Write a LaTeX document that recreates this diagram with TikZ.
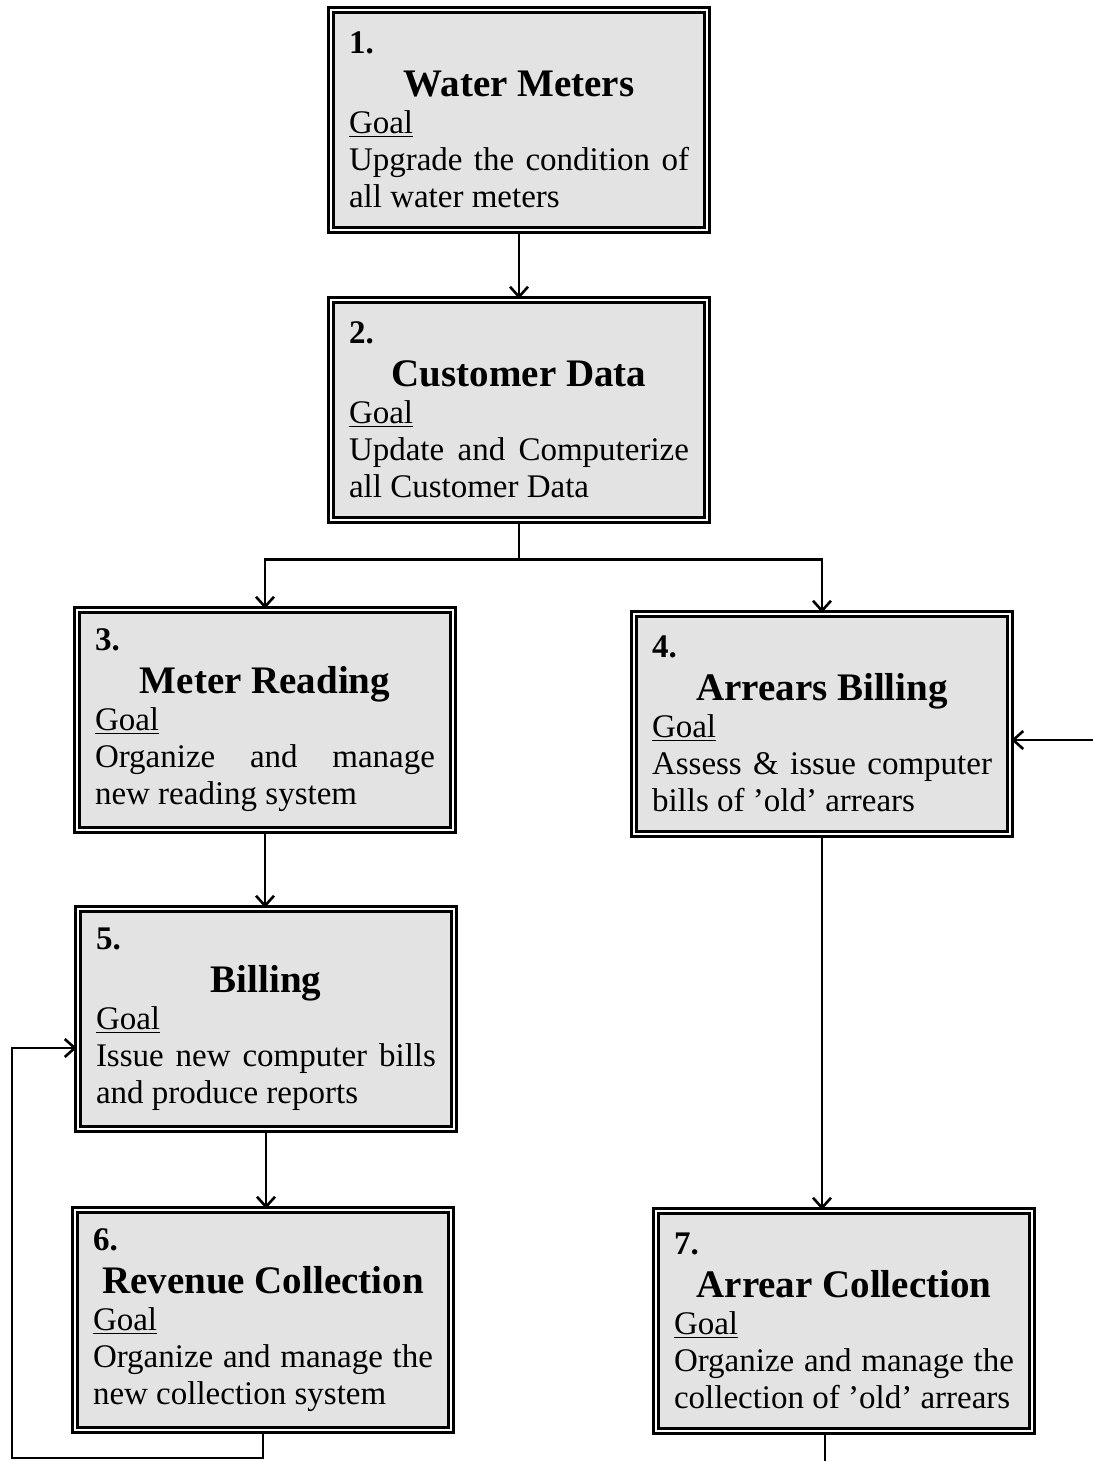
\documentclass[tikz,border=0pt]{standalone}
\usepackage{fontspec}
\setmainfont{Liberation Serif}
\usetikzlibrary{arrows.meta}
\setlength{\parindent}{0pt}

\newcommand{\bodyfont}{\fontsize{16.5}{18.5}\selectfont}
\newcommand{\titlefont}{\fontsize{19.5}{21.5}\selectfont\bfseries}

\tikzset{
  goalbox/.style={draw, line width=1.3pt, double=white, double distance=1.4pt,
    fill=black!11, text width=170pt, minimum height=110pt, inner xsep=9pt,
    align=justify, font=\bodyfont},
  link/.style={line width=1.3pt},
  >={Straight Barb[length=5pt,width=9pt,line width=1.3pt]}
}

\begin{document}
\begin{tikzpicture}[x=0.5pt,y=-0.5pt]
  \useasboundingbox (0,0) rectangle (1093,1461);

  \node[goalbox] (b1) at (519,120) {\textbf{1.}\par{\centering\titlefont Water Meters\par}\underline{Goal}\par
    Upgrade the condition of\linebreak all water meters};
  \node[goalbox] (b2) at (519,410) {\textbf{2.}\par{\centering\titlefont Customer Data\par}\underline{Goal}\par
    Update and Computerize\linebreak all Customer Data};
  \node[goalbox] (b3) at (265,720) {\textbf{3.}\par{\centering\titlefont Meter Reading\par}\underline{Goal}\par
    Organize and manage\linebreak new reading system};
  \node[goalbox] (b4) at (822,724) {\textbf{4.}\par{\centering\titlefont Arrears Billing\par}\underline{Goal}\par
    Assess \& issue computer\linebreak bills of 'old' arrears};
  \node[goalbox] (b5) at (266,1019) {\textbf{5.}\par{\centering\titlefont Billing\par}\underline{Goal}\par
    Issue new computer bills\linebreak and produce reports};
  \node[goalbox] (b6) at (263,1320) {\textbf{6.}\par{\centering\titlefont Revenue Collection\par}\underline{Goal}\par
    Organize and manage the\linebreak new collection system};
  \node[goalbox] (b7) at (844,1321) {\textbf{7.}\par{\centering\titlefont Arrear Collection\par}\underline{Goal}\par
    Organize and manage the\linebreak collection of 'old' arrears};

  % Verbindungen
  \draw[link,->] (b1) -- (b2);
  \draw[link,->] (b2.south) -- ++(0,38) coordinate (split) -| (b3.north);
  \draw[link,->] (split) -| (b4.north);
  \draw[link,->] (b3.south) -- (b3.south |- b5.north);
  \draw[link,->] (b5.south) -- (b5.south |- b6.north);
  \draw[link,->] (b4.south) -- (b4.south |- b7.north);

  % Rueckfuehrungen (abgeschnitten)
  \coordinate (rightin) at (1093,740);
  \draw[link,->] (rightin) -- (rightin -| b4.east);

  \coordinate (loopcorner) at (12,1458);
  \coordinate (loopup) at (12,1048);
  \draw[link,->] (b6.south) -- (b6.south |- loopcorner) -- (loopcorner) -- (loopup) -- (loopup -| b5.west);

  \coordinate (b7exit) at (825,1461);
  \draw[link] (b7exit |- b7.south) -- (b7exit);

\end{tikzpicture}
\end{document}
